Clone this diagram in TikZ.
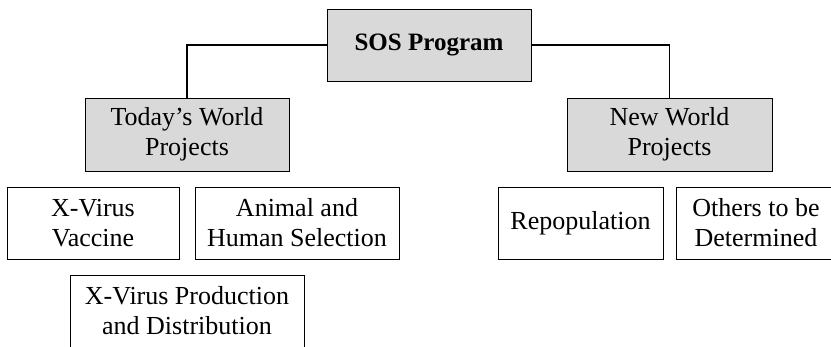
\documentclass[tikz,border=0pt]{standalone}
\usepackage{fontspec}
\setmainfont{Liberation Serif}
\begin{document}
\begin{tikzpicture}[x=1pt,y=-1pt,
  box/.style={draw=black, line width=1pt, rectangle, inner sep=0pt, align=center,
    font=\fontsize{26}{30}\selectfont, text=black},
  gbox/.style={box, fill=black!15},
  conn/.style={draw=black, line width=1.8pt}]
\useasboundingbox (0,0) rectangle (831,346);
\node[gbox, minimum width=204pt, minimum height=72pt, font=\fontsize{25}{30}\selectfont\bfseries] (sos) at (429,45) {SOS Program};
\node[gbox, minimum width=204pt, minimum height=73pt] (today) at (187,134.5) {Today’s World\\Projects};
\node[gbox, minimum width=205pt, minimum height=73pt] (new) at (669.5,134.5) {New World\\Projects};
\node[box, minimum width=172pt, minimum height=72pt] (vac) at (93,223) {X-Virus\\Vaccine};
\node[box, minimum width=204pt, minimum height=72pt] (ani) at (297,223) {Animal and\\Human Selection};
\node[box, minimum width=234pt, minimum height=72pt] (prod) at (187,311) {X-Virus Production\\and Distribution};
\node[box, minimum width=165pt, minimum height=72pt] (rep) at (580.5,223) {Repopulation};
\node[box, minimum width=160pt, minimum height=72pt] (oth) at (756,223) {Others to be\\Determined};
\draw[conn] (sos.west) -| (today.north);
\draw[conn] (sos.east) -| (new.north);
\end{tikzpicture}
\end{document}
